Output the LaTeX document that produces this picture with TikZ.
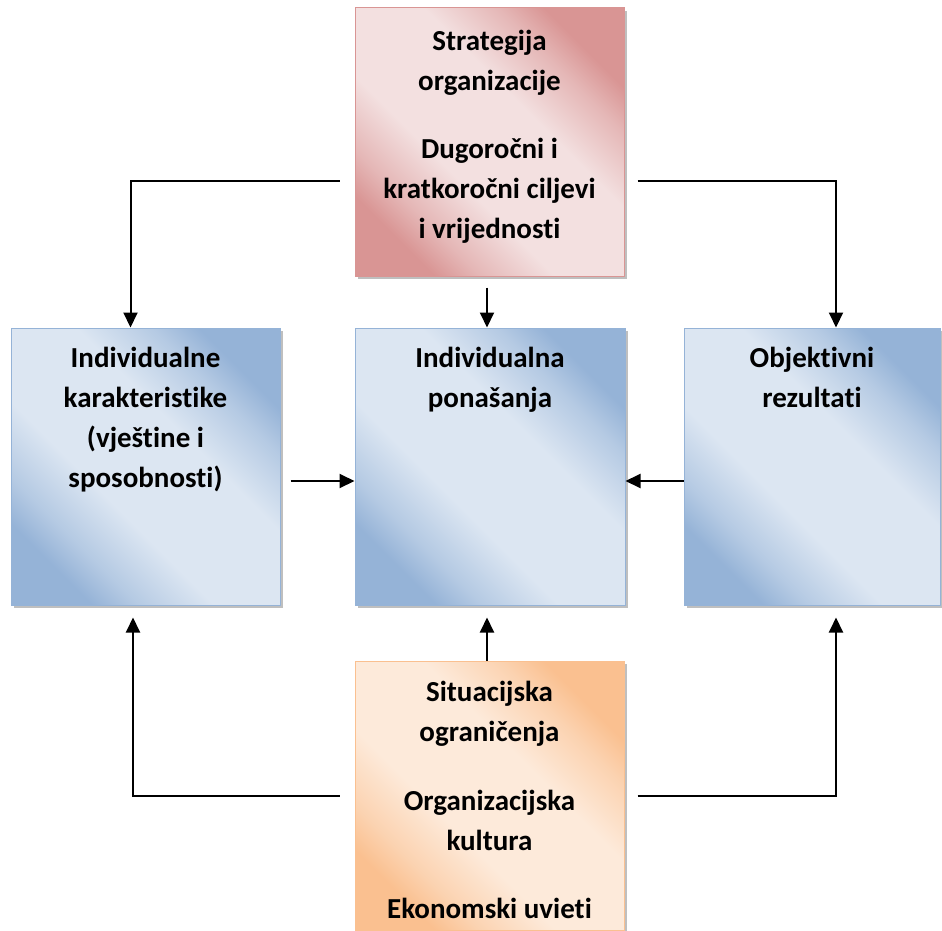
\documentclass[tikz,border=0pt]{standalone}
\usepackage{fontspec}
\setmainfont{Carlito}[Ligatures=NoCommon]
\usetikzlibrary{arrows.meta,shadows}
\definecolor{redD}{HTML}{D99594}
\definecolor{redL}{HTML}{F3E0E0}
\definecolor{bluD}{HTML}{95B3D7}
\definecolor{bluL}{HTML}{DCE6F2}
\definecolor{orD}{HTML}{FAC090}
\definecolor{orL}{HTML}{FDEADA}
\colorlet{redM}{redD!55!redL}
\colorlet{bluM}{bluD!55!bluL}
\colorlet{orM}{orD!55!orL}
\pgfdeclarehorizontalshading{redsh}{100bp}{color(0bp)=(redD); color(25bp)=(redD); color(31bp)=(redM); color(41bp)=(redL); color(59bp)=(redL); color(69bp)=(redM); color(75bp)=(redD); color(100bp)=(redD)}
\pgfdeclarehorizontalshading{blush}{100bp}{color(0bp)=(bluD); color(25bp)=(bluD); color(31bp)=(bluM); color(41bp)=(bluL); color(59bp)=(bluL); color(69bp)=(bluM); color(75bp)=(bluD); color(100bp)=(bluD)}
\pgfdeclarehorizontalshading{orsh}{100bp}{color(0bp)=(orD); color(25bp)=(orD); color(31bp)=(orM); color(41bp)=(orL); color(59bp)=(orL); color(69bp)=(orM); color(75bp)=(orD); color(100bp)=(orD)}
\begin{document}
\begin{tikzpicture}[x=1pt,y=-1pt,
 box/.style={rectangle, inner sep=0pt, line width=1pt,
   drop shadow={shadow xshift=3pt, shadow yshift=-3pt, fill=black, opacity=0.25}},
 redbox/.style={box, draw=redD, shading=redsh, shading angle=45},
 blubox/.style={box, draw=bluD, shading=blush, shading angle=45},
 orbox/.style={box, draw=orD, shading=orsh, shading angle=45},
 txt/.style={font=\bfseries\fontsize{29}{40}\selectfont, align=center, anchor=north, inner sep=0pt},
 arr/.style={line width=2pt, -{Triangle[length=15pt,width=14pt]}}
]
\useasboundingbox (0,0) rectangle (942,931);
\node[redbox, minimum width=269pt, minimum height=268pt] (T) at (489.5,142) {};
\node[blubox, minimum width=269pt, minimum height=277pt] (L) at (145.5,466.5) {};
\node[blubox, minimum width=270pt, minimum height=277pt] (M) at (490,466.5) {};
\node[blubox, minimum width=256pt, minimum height=277pt] (R) at (812,466.5) {};
\node[orbox, minimum width=269pt, minimum height=269pt] (B) at (489.5,795.5) {};

\node[txt] (tT) at ([yshift=-22pt]T.north) {Strategija\\organizacije\\[28pt]Dugoročni i\\kratkoročni ciljevi\\i vrijednosti};
\node[txt] (tL) at ([yshift=-19pt]L.north) {Individualne\\karakteristike\\(vještine i\\sposobnosti)};
\node[txt] (tM) at ([yshift=-19pt]M.north) {Individualna\\ponašanja};
\node[txt] (tR) at ([yshift=-19pt]R.north) {Objektivni\\rezultati};
\node[txt] (tB) at ([yshift=-20pt]B.north) {Situacijska\\ograničenja\\[29pt]Organizacijska\\kultura\\[28pt]Ekonomski uvieti};

\draw[arr, shorten <=15pt] ([yshift=-39pt]T.west) -| ([xshift=-15pt]L.north);
\draw[arr, shorten <=13pt] ([yshift=-39pt]T.east) -| ([xshift=24pt]R.north);
\draw[arr, shorten <=11pt] ([xshift=-2.5pt]T.south) -- ([xshift=-3pt]M.north);
\draw[arr, shorten <=10pt] ([yshift=-14.5pt]L.east) -- ([yshift=-14.5pt]M.west);
\draw[arr] ([yshift=-14.5pt]R.west) -- ([yshift=-14.5pt]M.east);
\draw[arr, shorten >=12pt] ([xshift=-2.5pt]B.north) -- ([xshift=-3pt]M.south);
\draw[arr, shorten <=15pt, shorten >=12pt] (B.west) -| ([xshift=-12.5pt]L.south);
\draw[arr, shorten <=13pt, shorten >=12pt] (B.east) -| ([xshift=24pt]R.south);
\end{tikzpicture}
\end{document}
